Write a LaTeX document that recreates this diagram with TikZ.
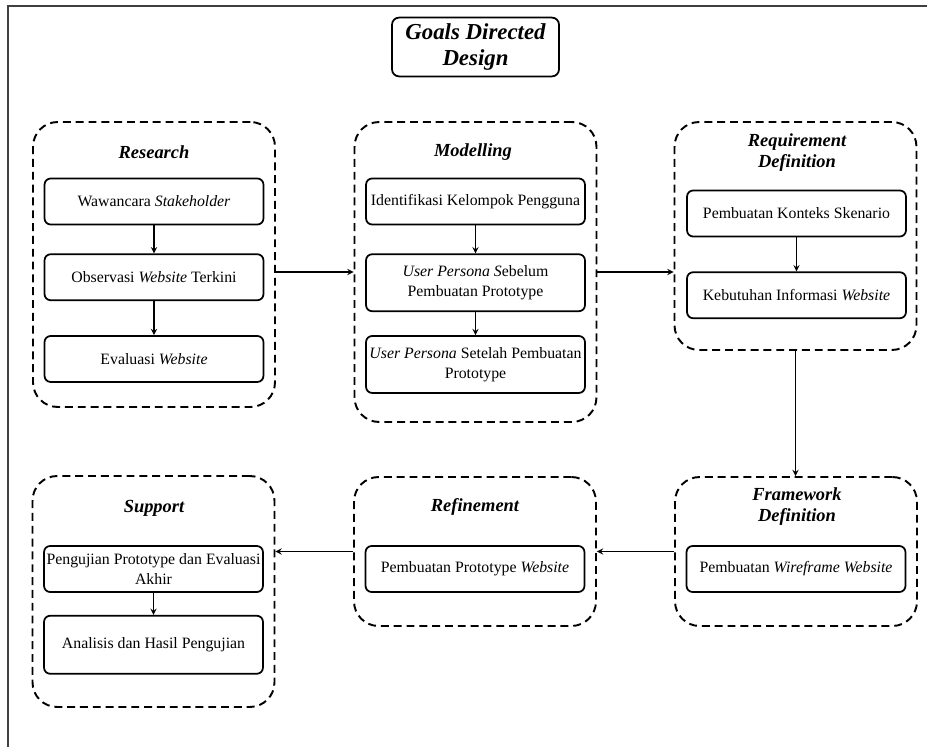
\documentclass[tikz,border=0pt]{standalone}
\usepackage{fontspec}
\setmainfont{Liberation Serif}
\usepackage{tikz}
\usetikzlibrary{shapes,arrows,positioning,calc}
\tikzstyle{arrow} = [semithick,->,>=stealth]
\tikzstyle{phase} = [rectangle, rounded corners=14pt, minimum width=4.84cm, inner sep=0pt, draw=black, line width=1.1pt, dash pattern=on 4.5pt off 2.8pt]
\tikzstyle{phasetitle} = [align=center, font=\fontsize{10.5}{12.2}\selectfont\bfseries\itshape]
\tikzstyle{task} = [rectangle, rounded corners=3.5pt, minimum width=4.38cm, minimum height=0.92cm, inner sep=1pt, text centered, align=center, draw=black, line width=1pt, font=\fontsize{9}{11.3}\selectfont]
\tikzstyle{frame} = [line width=1.2pt, draw=black!75]

\begin{document}
\begin{tikzpicture}[x=0.02cm,y=-0.02cm]
\useasboundingbox (0,0) rectangle (927,747);
\draw[frame] (927,6) -- (8,6) -- (8,747);

\node (Goals) [rectangle, rounded corners=4pt, minimum width=3.34cm, minimum height=1.16cm, align=center, draw=black, line width=1pt, font=\fontsize{13}{15}\selectfont\bfseries\itshape] at (475.5,47) {Goals Directed\\Design};

% Research
\node (Research) [phase, minimum height=5.7cm] at (154,264.5) {};
\node (ResearchTitle) [phasetitle] at (154,152) {Research};
\node (Wawancara) [task] at (154,201.5) {Wawancara \textit{Stakeholder}};
\node (Observasi) [task, below=0.56cm of Wawancara] {Observasi \textit{Website} Terkini};
\node (Evaluasi) [task, below=0.68cm of Observasi] {Evaluasi \textit{Website}};

% Modelling
\node (Modelling) [phase, minimum height=6cm] at (475.5,272) {};
\node (ModellingTitle) [phasetitle] at (473,152) {Modelling};
\node (Identifikasi) [task] at (475.5,201.5) {Identifikasi Kelompok Pengguna};
\node (PersonaSebelum) [task, minimum height=1.14cm, below=0.56cm of Identifikasi] {\textit{User Persona S}ebelum\\Pembuatan Prototype};
\node (PersonaSetelah) [task, minimum height=1.14cm, below=0.46cm of PersonaSebelum] {\textit{User Persona} Setelah Pembuatan\\Prototype};

% Requirement Definition
\node (Requirement) [phase, minimum height=4.56cm] at (795.5,236) {};
\node (RequirementTitle) [phasetitle] at (797,152.5) {Requirement\\Definition};
\node (Konteks) [task] at (796.5,213.5) {Pembuatan Konteks Skenario};
\node (Kebutuhan) [task, below=0.68cm of Konteks] {Kebutuhan Informasi \textit{Website}};

% Framework Definition
\node (Framework) [phase, minimum height=2.98cm] at (796,551.5) {};
\node (FrameworkTitle) [phasetitle] at (797,506.5) {Framework\\Definition};
\node (Wireframe) [task] at (796,569) {Pembuatan \textit{Wireframe Website}};

% Refinement
\node (Refinement) [phase, minimum height=2.98cm] at (475,551.5) {};
\node (RefinementTitle) [phasetitle] at (475,507) {Refinement};
\node (PrototypeWeb) [task] at (475,569) {Pembuatan Prototype \textit{Website}};

% Support
\node (Support) [phase, minimum height=4.62cm] at (153.5,591.5) {};
\node (SupportTitle) [phasetitle] at (154,508) {Support};
\node (Pengujian) [task] at (153.5,569) {Pengujian Prototype dan Evaluasi\\Akhir};
\node (Analisis) [task, minimum height=1.16cm, below=0.44cm of Pengujian] {Analisis dan Hasil Pengujian};

\draw[arrow] (Wawancara) -- (Observasi);
\draw[arrow] (Observasi) -- (Evaluasi);
\draw[arrow] (Identifikasi) -- (PersonaSebelum);
\draw[arrow] (PersonaSebelum) -- (PersonaSetelah);
\draw[arrow] (Konteks) -- (Kebutuhan);
\draw[arrow] (Pengujian) -- (Analisis);

\draw[arrow] (Research.east |- Modelling.west) -- (Modelling.west);
\draw[arrow] (Modelling.east) -- (Modelling.east -| Requirement.west);
\draw[arrow] (Requirement.south) -- (Requirement.south |- Framework.north);
\draw[arrow] (Framework.west) -- (Framework.west -| Refinement.east);
\draw[arrow] (Refinement.west) -- (Refinement.west -| Support.east);
\end{tikzpicture}
\end{document}
